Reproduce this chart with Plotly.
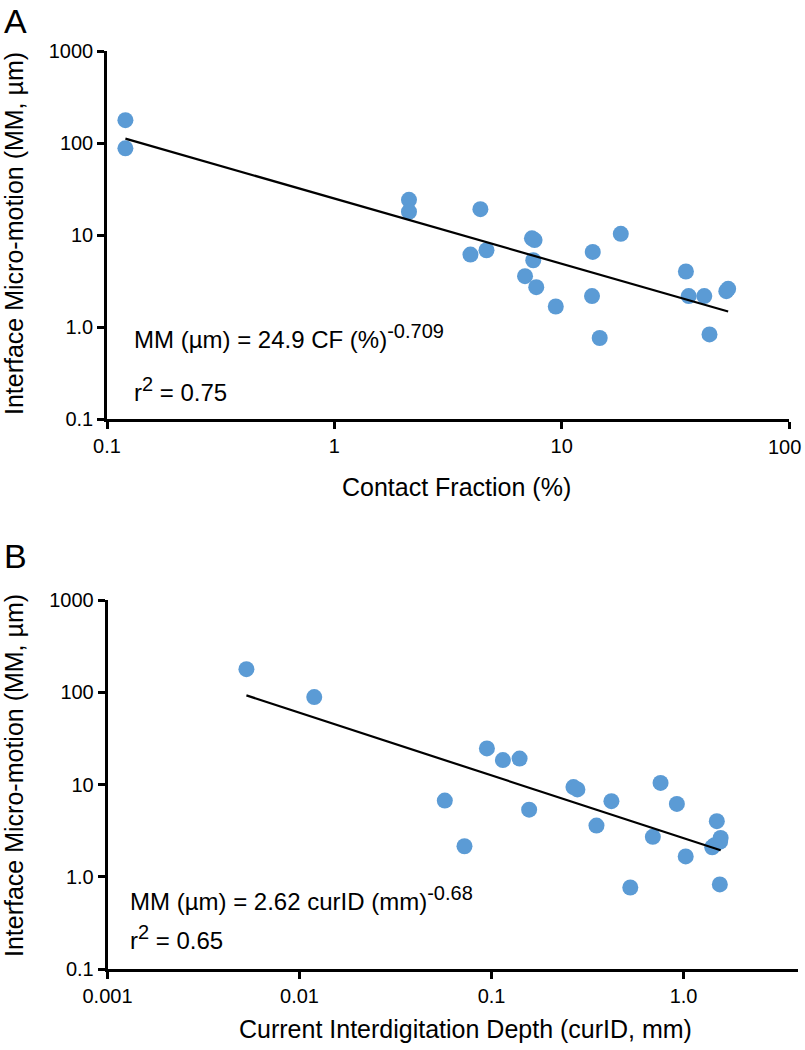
import numpy as np
import plotly.graph_objects as go

# ---------------- data ----------------
# Panel A: contact fraction (%) vs interface micro-motion (um)
cf_pct = [0.1205, 0.1205, 2.13, 2.13, 4.39, 3.97, 4.67, 7.4, 7.6, 7.5, 6.9, 7.73,
          9.42, 13.7, 13.6, 14.7, 18.2, 35.2, 36.2, 42.4, 44.7, 53.0, 54.0]
mm_a = [177, 87.5, 24.1, 17.9, 19.1, 6.12, 6.83, 9.2, 8.8, 5.32, 3.57, 2.71,
        1.67, 6.55, 2.17, 0.76, 10.3, 4.01, 2.17, 2.17, 0.83, 2.45, 2.6]

# Panel B: current interdigitation depth (mm) vs interface micro-motion (um)
curid_mm = [0.00529, 0.01193, 0.0946, 0.1146, 0.140, 0.0571, 0.0723, 0.157, 0.267,
            0.280, 0.352, 0.421, 0.528, 0.692, 0.759, 0.923, 1.026, 1.49, 1.41,
            1.545, 1.56, 1.55, 1.45]
mm_b = [178, 88.6, 24.6, 18.4, 19.1, 6.69, 2.14, 5.33, 9.38, 8.85, 3.59, 6.59,
        0.765, 2.71, 10.4, 6.16, 1.66, 4.0, 2.09, 0.826, 2.63, 2.4, 2.2]

# power-law fits (from the figure's equations)
fit_a = (24.9, -0.709)
fit_b = (2.62, -0.68)

y_tickvals = [0.1, 1, 10, 100, 1000]
y_ticktext = ["0.1", "1.0", "10", "100", "1000"]
xa_tickvals = [0.1, 1, 10, 100]
xa_ticktext = ["0.1", "1", "10", "100"]
xb_tickvals = [0.001, 0.01, 0.1, 1]
xb_ticktext = ["0.001", "0.01", "0.1", "1.0"]

# ---------------- figure ----------------
W, H = 805, 1050
BLUE = "rgb(91,155,213)"
FONT = "Liberation Sans, Arial, sans-serif"

fig = go.Figure()

def add_panel(x, y, fit, xa, ya):
    fig.add_trace(go.Scatter(x=x, y=y, mode="markers", xaxis=xa, yaxis=ya,
                             marker=dict(size=16, color=BLUE, line=dict(width=0)),
                             showlegend=False, hoverinfo="skip", cliponaxis=False))
    xs = np.array([min(x), max(x)])
    ys = fit[0] * xs ** fit[1]
    fig.add_trace(go.Scatter(x=xs, y=ys, mode="lines", xaxis=xa, yaxis=ya,
                             line=dict(color="black", width=2.2),
                             showlegend=False, hoverinfo="skip"))

add_panel(cf_pct, mm_a, fit_a, "x", "y")
add_panel(curid_mm, mm_b, fit_b, "x2", "y2")

axis_common = dict(type="log", showgrid=False, zeroline=False, showline=True,
                   automargin=False, ticklabeloverflow="allow",
                   linecolor="black", linewidth=2.5, ticks="outside", ticklen=7,
                   tickwidth=2.5, tickcolor="black",
                   tickfont=dict(family=FONT, size=20, color="black"))

def px_x(p):
    return p / W

def px_y(p):
    return 1 - p / H

# the last x tick label of panel A sits at the page edge: draw it as an
# annotation pulled inside the page, the others through the axis
xa_axis_text = xa_ticktext[:-1] + [""]

fig.update_layout(
    width=W, height=H, margin=dict(l=0, r=0, t=0, b=0, autoexpand=False),
    paper_bgcolor="white", plot_bgcolor="white",
    xaxis=dict(domain=[px_x(107), px_x(789)], range=[-1, 2], anchor="y",
               tickvals=xa_tickvals, ticktext=xa_axis_text, **axis_common),
    yaxis=dict(domain=[px_y(419), px_y(51)], range=[-1, 3], anchor="x",
               tickvals=y_tickvals, ticktext=y_ticktext, **axis_common),
    xaxis2=dict(domain=[px_x(107.5), px_x(798)], range=[-3, 0.596], anchor="y2",
                tickvals=xb_tickvals, ticktext=xb_ticktext, **axis_common),
    yaxis2=dict(domain=[px_y(969), px_y(600)], range=[-1, 3], anchor="x2",
                tickvals=y_tickvals, ticktext=y_ticktext, **axis_common),
)

fig.add_annotation(x=np.log10(xa_tickvals[-1]), y=px_y(447), xref="x", yref="paper",
                   text=xa_ticktext[-1], showarrow=False, xanchor="right",
                   yanchor="middle", xshift=14,
                   font=dict(family=FONT, size=20, color="black"))

def text(x, y, s, size, xanchor="center", yanchor="middle", angle=0):
    fig.add_annotation(x=px_x(x), y=px_y(y), xref="paper", yref="paper", text=s,
                       showarrow=False, xanchor=xanchor, yanchor=yanchor,
                       textangle=angle, font=dict(family=FONT, size=size, color="black"))

def sup(s, size=20):
    return "<sup><span style='font-size:%dpx'>%s</span></sup>" % (size, s)

# panel letters
text(2, 0, "A", 34, xanchor="left", yanchor="top")
text(2, 535, "B", 34, xanchor="left", yanchor="top")

# axis titles
text(456, 487, "Contact Fraction (%)", 25)
text(14, 234, "Interface Micro-motion (MM, µm)", 25, angle=-90)
text(465, 1029, "Current Interdigitation Depth (curID, mm)", 25)
text(14, 776, "Interface Micro-motion (MM, µm)", 25, angle=-90)

# equations
text(132, 355, "MM (µm) = 24.9 CF (%)" + sup("-0.709"), 24, xanchor="left", yanchor="bottom")
text(132, 408, "r" + sup("2") + " = 0.75", 24, xanchor="left", yanchor="bottom")
text(128, 917, "MM (µm) = 2.62 curID (mm)" + sup("-0.68"), 24, xanchor="left", yanchor="bottom")
text(128, 956, "r" + sup("2") + " = 0.65", 24, xanchor="left", yanchor="bottom")

fig.write_html("out.html",
               config={"displayModeBar": False},
               post_script="document.body.style.margin='0';"
                           "document.body.style.overflow='hidden';")
